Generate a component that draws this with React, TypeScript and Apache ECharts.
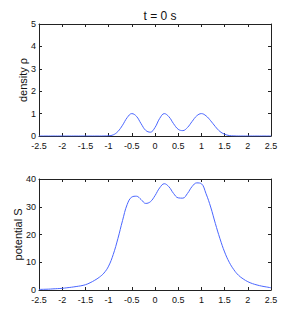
import React, { useEffect, useRef } from "react";
import * as echarts from "echarts";

const title = "t = 0 s";
const densityName = "density ρ";
const potentialName = "potential S";

const xs = [
  -2.5, -2.4, -2.3, -2.2, -2.1, -2.0, -1.9, -1.8, -1.7, -1.6, -1.5, -1.4, -1.3, -1.2, -1.1,
  -1.0, -0.9, -0.8, -0.7, -0.6, -0.5, -0.4, -0.3, -0.2, -0.1, 0.0, 0.1, 0.2, 0.3, 0.4, 0.5,
  0.6, 0.7, 0.8, 0.9, 1.0, 1.1, 1.2, 1.3, 1.4, 1.5, 1.6, 1.7, 1.8, 1.9, 2.0, 2.1, 2.2, 2.3,
  2.4, 2.5,
];

const density = [
  0, 0, 0, 0, 0, 0, 0, 0, 0, 0, 0, 0, 0, 0, 0.002,
  0.01, 0.05, 0.2, 0.48, 0.82, 1.0, 0.88, 0.55, 0.25, 0.17, 0.38, 0.78, 1.0, 0.86, 0.55, 0.3,
  0.24, 0.38, 0.65, 0.9, 1.0, 0.9, 0.68, 0.42, 0.2, 0.08, 0.02, 0.005, 0, 0, 0, 0, 0, 0,
  0, 0,
];

const potential = [
  0.2, 0.25, 0.3, 0.4, 0.5, 0.6, 0.8, 1.0, 1.25, 1.5, 1.9, 2.6, 3.5, 4.6, 6.1,
  8.6, 12.8, 18.5, 25.0, 30.8, 33.5, 33.8, 32.6, 31.2, 31.8, 34.0, 36.8, 38.3, 37.2, 34.8, 33.2,
  33.1, 34.8, 37.3, 38.6, 38.3, 34.7, 29.9, 24.0, 18.5, 13.7, 10.0, 7.3, 5.3, 4.0, 3.0, 2.3, 1.8, 1.4,
  1.1, 0.8,
];

const xTicks = { min: -2.5, max: 2.5, interval: 0.5 };
const densityTicks = { min: 0, max: 5, interval: 1 };
const potentialTicks = { min: 0, max: 40, interval: 10 };

const FONT = "'Liberation Sans Narrow', 'Liberation Sans', Arial, sans-serif";
const AXIS_COLOR = "#222";
const LINE_COLOR = "#4a66ff";

export default function App() {
  const ref = useRef<HTMLDivElement>(null);

  useEffect(() => {
    if (!ref.current) return;
    const chart = echarts.init(ref.current, undefined, { renderer: "svg" });

    const grids = [
      { left: 39, right: 29, top: 24, height: 112 },
      { left: 39, right: 29, top: 179, height: 111 },
    ];

    const mkX = (gridIndex: number, position: "bottom" | "top", labels: boolean) => ({
      type: "value",
      gridIndex,
      position,
      min: xTicks.min,
      max: xTicks.max,
      interval: xTicks.interval,
      axisLine: { show: true, onZero: false, lineStyle: { color: AXIS_COLOR, width: 1 } },
      axisTick: { show: true, inside: true, length: 3, lineStyle: { color: AXIS_COLOR } },
      axisLabel: {
        show: labels,
        color: "#111",
        fontFamily: FONT,
        fontSize: 9,
        margin: 5,
        formatter: (v: number) => String(v),
      },
      splitLine: { show: false },
    });

    const mkY = (
      gridIndex: number,
      position: "left" | "right",
      ticks: { min: number; max: number; interval: number },
      name: string,
      gap: number
    ) => ({
      type: "value",
      gridIndex,
      position,
      min: ticks.min,
      max: ticks.max,
      interval: ticks.interval,
      name: position === "left" ? name : "",
      nameLocation: "middle",
      nameGap: gap,
      nameMoveOverlap: false,
      nameTextStyle: { fontFamily: "'Liberation Sans', Arial, sans-serif", fontSize: 11, color: "#111" },
      axisLine: { show: true, onZero: false, lineStyle: { color: AXIS_COLOR, width: 1 } },
      axisTick: { show: true, inside: true, length: 3, lineStyle: { color: AXIS_COLOR } },
      axisLabel: {
        show: position === "left",
        color: "#111",
        fontFamily: FONT,
        fontSize: 9,
        margin: 3,
      },
      splitLine: { show: false },
    });

    const option = {
      animation: false,
      backgroundColor: "#fff",
      title: {
        text: title,
        left: 155,
        textAlign: "center",
        top: 5,
        textStyle: { fontFamily: FONT, fontSize: 12, fontWeight: "normal", color: "#111" },
      },
      grid: grids,
      xAxis: [mkX(0, "bottom", true), mkX(0, "top", false), mkX(1, "bottom", true), mkX(1, "top", false)],
      yAxis: [
        mkY(0, "left", densityTicks, densityName, 11),
        mkY(0, "right", densityTicks, "", 0),
        mkY(1, "left", potentialTicks, potentialName, 16),
        mkY(1, "right", potentialTicks, "", 0),
      ],
      series: [
        {
          type: "line",
          xAxisIndex: 0,
          yAxisIndex: 0,
          data: xs.map((x, i) => [x, density[i]]),
          smooth: 0.4,
          showSymbol: false,
          lineStyle: { color: LINE_COLOR, width: 1 },
        },
        {
          type: "line",
          xAxisIndex: 2,
          yAxisIndex: 2,
          data: xs.map((x, i) => [x, potential[i]]),
          smooth: 0.4,
          showSymbol: false,
          lineStyle: { color: LINE_COLOR, width: 1 },
        },
      ],
    };

    chart.setOption(option as any);
    return () => chart.dispose();
  }, []);

  return <div ref={ref} style={{ width: 300, height: 327, position: "absolute", left: 0, top: 0 }} />;
}
